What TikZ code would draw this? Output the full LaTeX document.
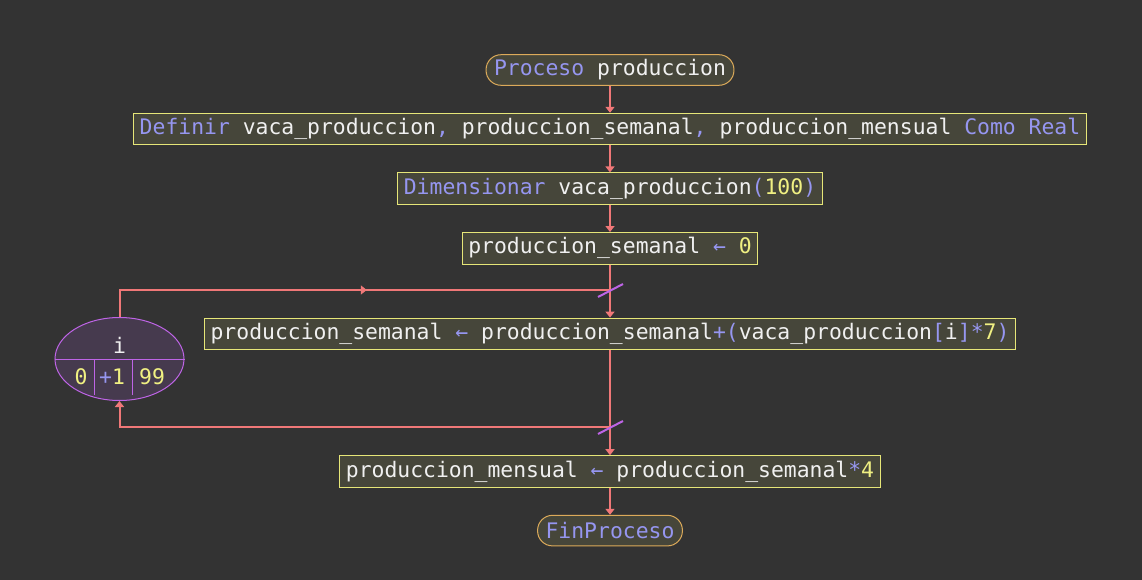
\documentclass[tikz,border=0pt]{standalone}
\usepackage{fontspec}
\setmonofont{DejaVu Sans Mono}
\usetikzlibrary{positioning,shapes.geometric,arrows.meta,decorations.markings,calc}

\definecolor{fondo}{RGB}{51,51,51}
\definecolor{cajafondo}{RGB}{70,70,58}
\definecolor{cajaborde}{RGB}{230,230,120}
\definecolor{termborde}{RGB}{220,170,90}
\definecolor{txtcol}{RGB}{240,240,240}
\definecolor{kwcol}{RGB}{150,150,240}
\definecolor{nrocol}{RGB}{240,240,130}
\definecolor{flechacol}{RGB}{240,120,120}
\definecolor{bucle}{RGB}{190,100,230}
\definecolor{buclefondo}{RGB}{70,58,78}

\newcommand{\kw}[1]{\textcolor{kwcol}{#1}}
\newcommand{\nro}[1]{\textcolor{nrocol}{#1}}

\begin{document}
\begin{tikzpicture}[x=1pt,y=1pt,
        node distance=27pt,
        every node/.style={font=\ttfamily\fontsize{21.4}{26}\selectfont, text=txtcol},
        caja/.style={draw=cajaborde, fill=cajafondo, line width=1pt, minimum height=31.6pt, inner xsep=6pt, inner ysep=0pt},
        terminal/.style={draw=termborde, fill=cajafondo, line width=1pt, rounded corners=15pt, minimum height=30.6pt, inner xsep=8pt, inner ysep=0pt},
        linea/.style={draw=flechacol, line width=2pt},
        flecha/.style={linea, -{Triangle[width=9pt,length=6pt]}},
        corte/.style={draw=bucle, line width=2pt}]
    \path[use as bounding box, fill=fondo] (0,0) rectangle (1142,-580);

    % secuencia principal
    \node[terminal] (proceso) at (610,-70) {\kw{Proceso} produccion};
    \node[caja, below=of proceso] (definir) {\kw{Definir} vaca\_produccion\kw{,} produccion\_semanal\kw{,} produccion\_mensual \kw{Como Real}};
    \node[caja, below=of definir] (dimension) {\kw{Dimensionar} vaca\_produccion\kw{(}\nro{100}\kw{)}};
    \node[caja, below=of dimension] (init) {produccion\_semanal \kw{←} \nro{0}};
    \node[caja, below=53pt of init] (cuerpo) {produccion\_semanal \kw{←} produccion\_semanal\kw{+(}vaca\_produccion\kw{[}i\kw{]*}\nro{7}\kw{)}};
    \node[caja, below=105pt of cuerpo] (mensual) {produccion\_mensual \kw{←} produccion\_semanal\kw{*}\nro{4}};
    \node[terminal, below=of mensual] (fin) {\kw{FinProceso}};

    % bucle Para
    \node[ellipse, draw=bucle, fill=buclefondo, line width=1pt, minimum width=129pt, minimum height=83pt] (bucle) at (119.5,-359) {};
    \node (var) at (119.5,-345) {i};
    \node (ini) at (81,-377) {\nro{0}};
    \node (paso) at (112,-377) {\kw{+}\nro{1}};
    \node (tope) at (152,-377) {\nro{99}};
    \draw[bucle, line width=1pt] (bucle.west) -- (bucle.east);
    \draw[bucle, line width=1pt] ($(bucle.center)+(-25.5,0)$) -- ++(0,-36);
    \draw[bucle, line width=1pt] ($(bucle.center)+(13,0)$) -- ++(0,-36);

    \coordinate (union1) at (610,-290);
    \coordinate (union2) at (610,-427);

    \draw[flecha] (proceso) -- (definir);
    \draw[flecha] (definir) -- (dimension);
    \draw[flecha] (dimension) -- (init);
    \draw[flecha] (init) -- (cuerpo);
    \draw[flecha] (cuerpo) -- (mensual);
    \draw[flecha] (mensual) -- (fin);
    \draw[linea, postaction=decorate, decoration={markings, mark=at position 0.53 with {\arrow{Triangle[width=9pt,length=6pt]}}}] (bucle.north) |- (union1);
    \draw[flecha] (union2) -| (bucle.south);
    \draw[corte] ($(union1)+(-12,-7)$) -- ($(union1)+(13,6)$);
    \draw[corte] ($(union2)+(-12,-7)$) -- ($(union2)+(13,6)$);
\end{tikzpicture}
\end{document}
